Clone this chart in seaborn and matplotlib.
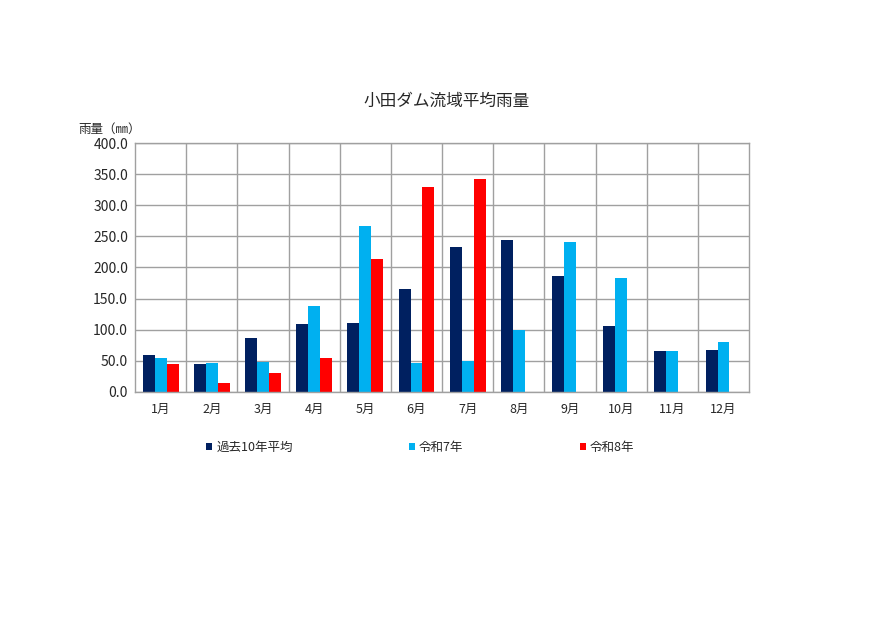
import pandas as pd
import numpy as np
import matplotlib
matplotlib.use('Agg')
import matplotlib.pyplot as plt
import seaborn as sns

months = ['1月', '2月', '3月', '4月', '5月', '6月', '7月', '8月', '9月', '10月', '11月', '12月']
avg10 = [59, 45, 87, 109, 110, 165, 233, 244, 187, 106, 66, 67]
r7 = [55, 46, 48, 138, 266, 46, 49, 100, 241, 183, 66, 80]
r8 = [45, 14, 31, 54, 214, 330, 342, np.nan, np.nan, np.nan, np.nan, np.nan]
series = ['過去10年平均', '令和7年', '令和8年']
colors = ['#002060', '#00B0F0', '#FF0000']

df = pd.DataFrame({'month': months, series[0]: avg10, series[1]: r7, series[2]: r8})
df = df.melt(id_vars='month', var_name='series', value_name='rain')

sns.set_theme(style='white')
plt.rcParams['font.family'] = ['Noto Sans CJK JP', 'DejaVu Sans']

fig = plt.figure(figsize=(8.9, 6.3), dpi=100)
ax = fig.add_axes([0.1517, 0.378, 0.69, 0.395])

sns.barplot(data=df, x='month', y='rain', hue='series', hue_order=series,
            palette=colors, width=0.7, gap=0, saturation=1, linewidth=0,
            ax=ax, legend=True)

ax.set_ylim(0, 400)
ax.set_xlim(-0.5, 11.5)
ax.set_yticks(np.arange(0, 401, 50))
ax.set_yticklabels([f'{v:.1f}' for v in np.arange(0, 401, 50)], fontsize=10)
ax.set_xticks(range(12))
ax.set_xticklabels(months, fontsize=9)
ax.set_xticks(np.arange(0.5, 11.5, 1), minor=True)
ax.tick_params(axis='x', which='both', length=0, pad=8)
ax.tick_params(axis='y', length=0, pad=5)
ax.grid(axis='y', color='#a0a0a0', linewidth=1)
ax.grid(axis='x', which='minor', color='#a0a0a0', linewidth=1)
ax.set_axisbelow(True)
for s in ax.spines.values():
    s.set_color('#a0a0a0')
    s.set_linewidth(1)
ax.set_xlabel('')
ax.set_ylabel('')

ax.legend_.remove()
handles, labels = ax.get_legend_handles_labels()
fig.legend(handles, labels, loc='center', bbox_to_anchor=(0.472, 0.29), ncol=3,
           frameon=False, fontsize=9, handlelength=0.5, handleheight=0.5,
           handletextpad=0.3, columnspacing=9.3)

fig.text(0.502, 0.84, '小田ダム流域平均雨量', ha='center', va='center', fontsize=12)
fig.text(0.088, 0.795, '雨量（㎜）', ha='left', va='center', fontsize=9)

fig.savefig('out.png', dpi=100, facecolor='white')
